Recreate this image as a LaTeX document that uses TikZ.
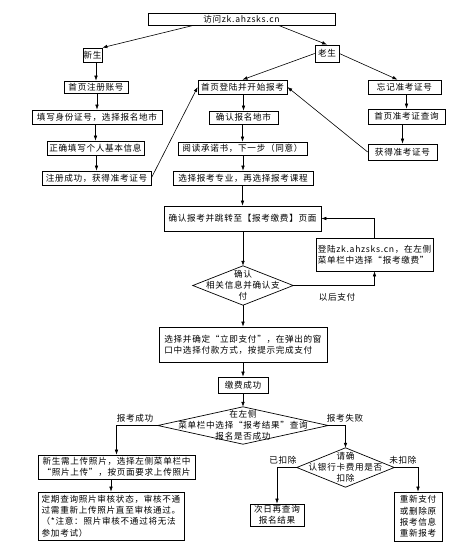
\documentclass[tikz,border=0pt]{standalone}
\usepackage{fontspec}
\usepackage{tikz}
\usetikzlibrary{arrows.meta}
\setmainfont{Noto Sans CJK SC}[LetterSpace=8]

\begin{document}
\begin{tikzpicture}[x=1pt, y=-1pt,
        every node/.style={font=\fontsize{8.6}{11.2}\selectfont, inner sep=0pt},
        box/.style={draw, line width=0.7pt, align=center},
        dia/.style={align=center},
        lab/.style={anchor=center},
        arr/.style={draw, line width=0.6pt, -{Latex[length=5pt,width=3.6pt]}}]
        \useasboundingbox (0,0) rectangle (467,554);
        % top and the two branches
        \node[box, minimum width=187, minimum height=12] (top) at (241.5,19) {访问zk.ahzsks.cn};
        \node[box, minimum width=19, minimum height=14] (new) at (92.5,55) {新生};
        \node[box, minimum width=24, minimum height=17] (old) at (327,53.5) {老生};
        % new students
        \node[box, minimum width=64, minimum height=12] (n1) at (96,87) {首页注册账号};
        \node[box, minimum width=130, minimum height=14] (n2) at (97,117) {填写身份证号，选择报名地市};
        \node[box, minimum width=97, minimum height=14] (n3) at (95.5,148) {正确填写个人基本信息};
        \node[box, minimum width=109, minimum height=14] (n4) at (96.5,178) {注册成功，获得准考证号};
        % old students
        \node[box, minimum width=89, minimum height=14] (o1) at (242.5,87) {首页登陆并开始报考};
        \node[box, minimum width=69, minimum height=13] (o2) at (243.5,117.5) {确认报名地市};
        \node[box, minimum width=129, minimum height=13] (o3) at (242.5,148.5) {阅读承诺书，下一步（同意）};
        \node[box, minimum width=140, minimum height=14] (o4) at (243,178) {选择报考专业，再选择报考课程};
        \node[box, minimum width=157, minimum height=25] (o5) at (242.5,218.5) {确认报考并跳转至【报考缴费】页面};
        \node[box, minimum width=117, minimum height=33, align=left] (pay) at (374.5,254.5) {登陆zk.ahzsks.cn，在左侧\\菜单栏中选择“报考缴费”};
        \node[dia, minimum width=100, minimum height=39] (d1) at (243,285.5) {确认\\相关信息并确认支\\付};
        \node[box, minimum width=168, minimum height=35, align=left] (o6) at (243,344.5) {选择并确定“立即支付”，在弹出的窗\\口中选择付款方式，按提示完成支付};
        \node[box, minimum width=50, minimum height=16] (o7) at (243,385) {缴费成功};
        \node[dia, minimum width=170, minimum height=37] (d2) at (243,425.5) {在左侧\\菜单栏中选择“报考结果”查询\\报名是否成功};
        % forgotten number
        \node[box, minimum width=73, minimum height=14] (f1) at (404.5,87) {忘记准考证号};
        \node[box, minimum width=77, minimum height=15] (f2) at (406.5,116.5) {首页准考证查询};
        \node[box, minimum width=69, minimum height=16] (f3) at (402.5,152) {获得准考证号};
        % results
        \node[box, minimum width=157, minimum height=24, align=left] (s1) at (116.5,467) {新生需上传照片，选择左侧菜单栏中\\“照片上传”，按页面要求上传照片};
        \node[box, minimum width=146, minimum height=48, align=left] (s2) at (111,516) {定期查询照片审核状态，审核不通\\过需重新上传照片直至审核通过。\\（*注意：照片审核不通过将无法\\参加考试）};
        \node[dia, minimum width=97, minimum height=39] (d3) at (345.5,467.5) {请确\\认银行卡费用是否\\扣除};
        \node[box, minimum width=54, minimum height=22] (r1) at (277,515) {次日再查询\\报名结果};
        \node[box, minimum width=48, minimum height=49] (r2) at (418,516.5) {重新支付\\或删除原\\报考信息\\重新报考};
        % diamonds
        \foreach \d in {d1, d2, d3}{
            \path[draw, line width=0.7pt] (\d.west) -- (\d.north) -- (\d.east) -- (\d.south) -- cycle;
        }
        % labels
        \node[lab] (l1) at (337,297) {以后支付};
        \node[lab] (l2) at (135,418) {报考成功};
        \node[lab] (l3) at (345,418) {报考失败};
        \node[lab] (l4) at (283,460) {已扣除};
        \node[lab] (l5) at (403,460) {未扣除};
        % connectors
        \path[arr] ([xshift=-48]top.south) -- (new.north east);
        \path[arr] ([xshift=37]top.south) -- (old.north);
        \path[arr] (old.west) -- (o1.north);
        \path[arr] (old.east) -- ([xshift=-7]f1.north);
        \foreach \a/\b in {new/n1, n1/n2, n2/n3, n3/n4, o1/o2, o2/o3, o3/o4, o4/o5, o5/d1, d1/o6, o6/o7, o7/d2, f1/f2, f2/f3, s1/s2}{
            \path[arr] (\b.north |- \a.south) -- (\b.north);
        }
        \path[arr] (n4.east) -- (o1.west);
        \path[arr] (f3.west) -- (o1.east);
        \path[arr] (d1.east) -| (pay.south);
        \path[arr] (pay.north) |- (o5.east);
        \path[arr] (d2.west) -| (s1.north);
        \path[arr] (d2.east) -| (d3.north);
        \path[arr] (d3.west) -| (r1.north);
        \path[arr] (d3.east) -| (r2.north);
    \end{tikzpicture}
\end{document}
